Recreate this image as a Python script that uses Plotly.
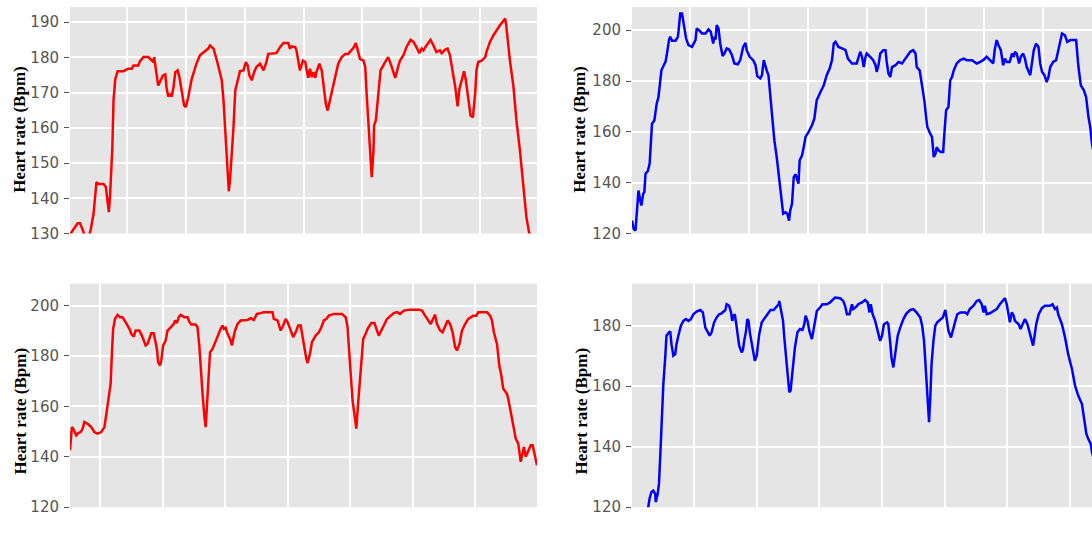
import plotly.graph_objects as go

# ---------------- data (time in grid units, heart rate in bpm) ----------------
tl_t = [
    0.02, 0.06, 0.16, 0.20, 0.25, 0.30, 0.34, 0.38, 0.43, 0.48,
    0.51, 0.60, 0.64, 0.67, 0.69, 0.71, 0.75, 0.77, 0.80, 0.84,
    0.94, 1.02, 1.08, 1.11, 1.19, 1.22, 1.28, 1.36, 1.42, 1.45,
    1.46, 1.48, 1.50, 1.53, 1.56, 1.61, 1.65, 1.67, 1.70, 1.73,
    1.76, 1.79, 1.82, 1.86, 1.89, 1.93, 1.97, 2.00, 2.04, 2.10,
    2.18, 2.24, 2.30, 2.35, 2.38, 2.41, 2.47, 2.52, 2.58, 2.61,
    2.64, 2.67, 2.69, 2.73, 2.75, 2.78, 2.81, 2.84, 2.88, 2.92,
    2.98, 3.02, 3.05, 3.08, 3.12, 3.16, 3.20, 3.26, 3.32, 3.37,
    3.40, 3.54, 3.60, 3.66, 3.74, 3.77, 3.80, 3.86, 3.88, 3.91,
    3.94, 3.99, 4.03, 4.05, 4.08, 4.11, 4.14, 4.17, 4.20, 4.22,
    4.27, 4.31, 4.34, 4.38, 4.41, 4.45, 4.51, 4.59, 4.65, 4.71,
    4.76, 4.79, 4.85, 4.89, 4.93, 4.96, 5.02, 5.05, 5.07, 5.10,
    5.13, 5.16, 5.19, 5.20, 5.23, 5.27, 5.31, 5.39, 5.44, 5.50,
    5.56, 5.60, 5.64, 5.70, 5.75, 5.82, 5.87, 5.92, 5.97, 6.01,
    6.04, 6.07, 6.12, 6.16, 6.21, 6.26, 6.32, 6.35, 6.41, 6.45,
    6.49, 6.54, 6.58, 6.62, 6.65, 6.69, 6.73, 6.76, 6.80, 6.84,
    6.88, 6.92, 6.94, 6.97, 7.03, 7.09, 7.11, 7.17, 7.23, 7.28,
    7.34, 7.43, 7.45, 7.51, 7.57, 7.62, 7.68, 7.74, 7.79, 7.84,
    7.95]
tl_hr = [
    129.0, 130.5, 132.9, 132.9, 130.9, 128.0, 128.5, 130.9, 135.6, 144.6,
    144.1, 144.1, 143.2, 139.4, 136.1, 140.3, 154.5, 167.8, 173.9, 176.1,
    176.1, 176.8, 176.8, 177.7, 177.7, 178.9, 180.1, 180.1, 179.3, 178.7,
    180.1, 178.2, 175.4, 172.0, 173.0, 174.9, 175.2, 171.6, 168.9, 169.5,
    168.9, 171.6, 175.8, 176.3, 174.4, 170.2, 166.4, 165.9, 168.7, 173.9,
    178.2, 180.6, 181.5, 182.0, 182.5, 183.4, 182.5, 179.6, 175.8, 173.5,
    167.8, 158.3, 150.7, 142.0, 145.1, 151.7, 160.2, 170.6, 173.5, 176.1,
    176.3, 178.7, 177.7, 174.9, 173.5, 175.8, 177.3, 178.2, 176.3, 178.7,
    181.0, 181.2, 182.9, 184.1, 184.1, 182.5, 183.1, 182.9, 182.0, 179.1,
    176.3, 179.1, 178.7, 176.8, 174.2, 176.8, 174.4, 175.8, 174.2, 175.8,
    178.2, 176.3, 171.6, 166.8, 164.9, 167.8, 172.0, 178.2, 180.1, 181.0,
    181.0, 181.5, 182.7, 184.1, 181.5, 179.6, 179.1, 177.3, 170.6, 162.1,
    152.6, 146.0, 153.6, 160.7, 162.1, 169.7, 176.3, 178.7, 180.1, 177.3,
    174.2, 176.8, 179.1, 180.6, 182.9, 185.0, 184.4, 182.9, 181.2, 182.5,
    182.0, 182.9, 183.9, 185.0, 183.4, 181.5, 182.0, 181.2, 182.2, 182.5,
    180.6, 175.8, 171.6, 166.1, 171.0, 173.5, 176.1, 173.5, 168.3, 163.5,
    163.0, 170.0, 176.3, 178.7, 179.1, 180.1, 181.5, 184.4, 186.3, 187.7,
    189.1, 191.0, 188.6, 179.1, 171.6, 162.1, 153.6, 143.2, 134.6, 129.9,
    122.0]

tr_t = [
    0.01, 0.04, 0.07, 0.09, 0.12, 0.15, 0.17, 0.20, 0.22, 0.24,
    0.28, 0.31, 0.33, 0.35, 0.39, 0.41, 0.43, 0.46, 0.49, 0.51,
    0.55, 0.58, 0.60, 0.64, 0.66, 0.69, 0.75, 0.79, 0.80, 0.83,
    0.86, 0.90, 0.93, 0.97, 1.03, 1.09, 1.11, 1.16, 1.20, 1.26,
    1.31, 1.35, 1.39, 1.41, 1.43, 1.45, 1.48, 1.51, 1.55, 1.58,
    1.62, 1.66, 1.71, 1.75, 1.81, 1.85, 1.90, 1.94, 1.96, 2.01,
    2.07, 2.11, 2.14, 2.19, 2.22, 2.25, 2.28, 2.30, 2.33, 2.36,
    2.39, 2.43, 2.47, 2.52, 2.56, 2.58, 2.62, 2.65, 2.68, 2.70,
    2.73, 2.76, 2.79, 2.84, 2.86, 2.90, 2.93, 2.96, 3.01, 3.07,
    3.11, 3.15, 3.21, 3.27, 3.32, 3.37, 3.41, 3.44, 3.47, 3.52,
    3.58, 3.64, 3.68, 3.72, 3.75, 3.83, 3.86, 3.89, 3.92, 3.95,
    3.98, 4.00, 4.06, 4.11, 4.15, 4.17, 4.20, 4.23, 4.28, 4.32,
    4.34, 4.37, 4.40, 4.43, 4.49, 4.54, 4.60, 4.66, 4.69, 4.74,
    4.79, 4.83, 4.85, 4.90, 4.94, 4.98, 5.01, 5.03, 5.08, 5.11,
    5.14, 5.17, 5.19, 5.22, 5.26, 5.30, 5.32, 5.35, 5.39, 5.42,
    5.45, 5.48, 5.53, 5.59, 5.65, 5.70, 5.79, 5.83, 5.87, 5.93,
    5.98, 6.04, 6.10, 6.15, 6.18, 6.21, 6.24, 6.28, 6.32, 6.35,
    6.38, 6.43, 6.47, 6.50, 6.52, 6.55, 6.59, 6.62, 6.66, 6.69,
    6.72, 6.78, 6.84, 6.88, 6.92, 6.95, 6.98, 7.02, 7.06, 7.09,
    7.12, 7.17, 7.22, 7.24, 7.29, 7.32, 7.37, 7.41, 7.46, 7.52,
    7.56, 7.60, 7.64, 7.69, 7.73, 7.77, 7.80, 7.83, 7.90, 7.97]
tr_hr = [
    125.1, 121.8, 121.2, 127.8, 136.9, 133.0, 131.0, 135.6, 136.3, 143.5,
    144.6, 147.5, 156.7, 163.2, 164.5, 168.5, 171.1, 173.7, 179.6, 184.2,
    186.2, 187.5, 190.1, 196.3, 197.4, 195.8, 195.8, 197.4, 199.3, 206.6,
    206.6, 201.3, 196.7, 194.1, 193.4, 196.1, 200.7, 199.7, 198.7, 198.7,
    200.3, 199.3, 194.7, 197.4, 196.3, 202.0, 200.7, 194.7, 189.8, 190.8,
    192.8, 192.4, 190.1, 186.9, 186.6, 188.2, 193.4, 195.0, 192.1, 189.5,
    188.2, 186.2, 181.9, 181.0, 182.3, 188.2, 185.5, 184.2, 182.3, 173.7,
    164.5, 156.7, 150.1, 140.9, 133.0, 127.8, 128.4, 127.8, 125.1, 129.1,
    131.7, 142.2, 143.3, 139.6, 148.8, 150.7, 154.0, 158.0, 159.9, 162.6,
    165.2, 172.4, 175.5, 178.3, 182.3, 184.9, 188.2, 194.7, 195.4, 193.4,
    192.8, 192.1, 188.8, 187.5, 186.9, 186.9, 189.5, 191.5, 189.5, 185.5,
    189.5, 190.8, 189.5, 188.2, 186.2, 183.6, 186.2, 190.8, 192.1, 192.1,
    187.5, 182.9, 181.6, 185.5, 186.2, 187.5, 186.9, 188.8, 190.1, 191.5,
    192.1, 190.8, 185.5, 184.2, 178.3, 172.4, 165.8, 161.9, 159.3, 158.0,
    150.1, 151.4, 154.0, 152.7, 152.1, 152.1, 159.3, 168.5, 169.8, 180.3,
    181.6, 184.2, 186.9, 188.2, 188.8, 188.2, 188.2, 187.5, 186.9, 187.5,
    188.2, 189.5, 188.2, 186.9, 192.8, 196.1, 194.1, 192.1, 186.2, 188.8,
    187.5, 187.5, 190.8, 189.5, 191.5, 190.8, 186.9, 189.5, 190.8, 188.8,
    185.5, 182.3, 192.1, 194.7, 193.4, 186.9, 183.6, 182.3, 179.6, 181.6,
    185.5, 187.5, 188.2, 190.1, 196.1, 198.7, 198.0, 195.4, 196.1, 196.1,
    196.1, 185.5, 178.3, 176.4, 173.7, 165.8, 161.9, 155.3, 146.0, 138.0]

bl_t = [
    0.52, 0.55, 0.58, 0.62, 0.65, 0.69, 0.72, 0.75, 0.81, 0.86,
    0.91, 0.96, 1.02, 1.07, 1.11, 1.13, 1.17, 1.19, 1.21, 1.24,
    1.28, 1.32, 1.36, 1.40, 1.43, 1.47, 1.50, 1.54, 1.57, 1.63,
    1.67, 1.71, 1.73, 1.76, 1.79, 1.82, 1.86, 1.88, 1.91, 1.93,
    1.96, 1.98, 2.01, 2.05, 2.08, 2.13, 2.18, 2.20, 2.23, 2.26,
    2.29, 2.35, 2.40, 2.43, 2.46, 2.53, 2.56, 2.59, 2.61, 2.64,
    2.67, 2.69, 2.70, 2.73, 2.76, 2.80, 2.84, 2.88, 2.93, 2.96,
    2.98, 3.01, 3.04, 3.08, 3.11, 3.13, 3.16, 3.20, 3.25, 3.36,
    3.41, 3.46, 3.51, 3.57, 3.62, 3.76, 3.78, 3.84, 3.86, 3.89,
    3.93, 3.97, 4.00, 4.04, 4.09, 4.13, 4.17, 4.21, 4.23, 4.26,
    4.30, 4.32, 4.36, 4.39, 4.45, 4.50, 4.54, 4.58, 4.62, 4.66,
    4.74, 4.87, 4.93, 4.96, 4.98, 5.01, 5.04, 5.07, 5.10, 5.12,
    5.17, 5.21, 5.25, 5.28, 5.34, 5.39, 5.44, 5.46, 5.50, 5.55,
    5.59, 5.65, 5.70, 5.75, 5.80, 5.86, 5.96, 6.10, 6.15, 6.20,
    6.26, 6.29, 6.34, 6.36, 6.39, 6.44, 6.48, 6.52, 6.56, 6.60,
    6.64, 6.68, 6.71, 6.75, 6.79, 6.84, 6.89, 6.97, 7.02, 7.05,
    7.11, 7.19, 7.24, 7.27, 7.30, 7.35, 7.39, 7.41, 7.45, 7.51,
    7.53, 7.57, 7.61, 7.65, 7.69, 7.73, 7.76, 7.78, 7.81, 7.85,
    7.89, 7.92, 7.94, 7.97, 7.99]
bl_hr = [
    142.6, 151.8, 150.8, 148.5, 149.4, 149.8, 151.0, 153.8, 152.9, 151.8,
    149.8, 149.2, 149.8, 151.8, 158.4, 161.7, 169.0, 180.9, 190.8, 194.7,
    196.3, 195.4, 195.4, 193.8, 192.5, 190.8, 188.8, 187.7, 190.1, 190.1,
    188.1, 185.5, 184.2, 184.8, 186.8, 189.0, 189.0, 186.8, 182.8, 177.6,
    176.2, 178.2, 184.2, 186.1, 190.1, 191.4, 192.7, 194.1, 193.1, 195.4,
    196.3, 195.4, 195.4, 193.5, 192.5, 192.5, 191.4, 183.5, 174.3, 165.0,
    155.8, 151.8, 155.8, 170.3, 181.5, 182.8, 185.5, 188.1, 190.8, 192.1,
    190.8, 191.2, 188.8, 186.8, 184.2, 186.8, 190.1, 192.7, 194.1, 194.3,
    195.0, 194.3, 196.7, 197.0, 197.4, 197.4, 194.7, 194.1, 192.1, 190.1,
    192.1, 194.7, 193.5, 190.8, 187.5, 189.4, 192.1, 192.1, 188.8, 184.8,
    178.9, 177.2, 181.0, 185.5, 188.1, 189.4, 191.4, 194.1, 194.7, 196.0,
    196.7, 196.7, 195.4, 191.4, 182.8, 172.9, 162.4, 155.8, 151.2, 158.4,
    175.6, 186.8, 188.8, 190.8, 193.1, 193.1, 189.4, 188.1, 190.1, 192.5,
    194.7, 196.0, 197.0, 197.4, 196.7, 198.0, 198.4, 198.4, 198.0, 196.0,
    194.1, 192.7, 195.4, 196.4, 192.7, 190.1, 189.4, 192.1, 194.1, 192.7,
    189.4, 183.5, 182.2, 184.8, 190.1, 192.7, 194.7, 196.0, 196.0, 197.4,
    197.4, 197.4, 196.0, 194.1, 189.4, 184.8, 175.6, 173.6, 167.0, 165.0,
    163.0, 158.4, 152.5, 147.2, 145.2, 138.0, 141.9, 143.9, 140.0, 142.6,
    144.6, 144.6, 141.9, 138.0, 136.6]

br_t = [
    0.25, 0.27, 0.29, 0.32, 0.35, 0.38, 0.39, 0.42, 0.44, 0.46,
    0.48, 0.51, 0.54, 0.56, 0.60, 0.62, 0.64, 0.67, 0.70, 0.72,
    0.75, 0.79, 0.83, 0.87, 0.91, 0.95, 0.99, 1.04, 1.10, 1.14,
    1.18, 1.20, 1.25, 1.28, 1.32, 1.36, 1.40, 1.44, 1.47, 1.50,
    1.52, 1.56, 1.59, 1.61, 1.63, 1.65, 1.67, 1.69, 1.72, 1.76,
    1.78, 1.80, 1.83, 1.85, 1.87, 1.89, 1.92, 1.95, 1.97, 2.00,
    2.04, 2.08, 2.13, 2.19, 2.22, 2.27, 2.31, 2.35, 2.36, 2.38,
    2.42, 2.44, 2.47, 2.50, 2.52, 2.54, 2.57, 2.61, 2.65, 2.69,
    2.73, 2.76, 2.78, 2.81, 2.84, 2.88, 2.90, 2.93, 2.96, 3.01,
    3.05, 3.12, 3.17, 3.25, 3.33, 3.38, 3.41, 3.44, 3.48, 3.52,
    3.54, 3.59, 3.62, 3.68, 3.73, 3.77, 3.80, 3.82, 3.85, 3.89,
    3.93, 3.97, 4.00, 4.03, 4.08, 4.10, 4.13, 4.15, 4.18, 4.21,
    4.25, 4.29, 4.34, 4.39, 4.45, 4.50, 4.55, 4.61, 4.64, 4.67,
    4.70, 4.72, 4.75, 4.77, 4.79, 4.82, 4.85, 4.88, 4.93, 4.97,
    5.01, 5.03, 5.06, 5.10, 5.13, 5.17, 5.20, 5.25, 5.33, 5.36,
    5.40, 5.46, 5.51, 5.55, 5.59, 5.62, 5.64, 5.67, 5.72, 5.78,
    5.83, 5.88, 5.93, 5.96, 5.99, 6.02, 6.04, 6.07, 6.10, 6.12,
    6.18, 6.21, 6.25, 6.28, 6.32, 6.36, 6.41, 6.43, 6.46, 6.50,
    6.55, 6.60, 6.68, 6.72, 6.76, 6.79, 6.81, 6.87, 6.92, 6.97,
    7.03, 7.08, 7.13, 7.19, 7.22, 7.26, 7.29, 7.33, 7.35, 7.40,
    7.50]
br_hr = [
    117.5, 120.0, 122.8, 125.0, 125.5, 124.4, 121.7, 124.4, 127.7, 136.5,
    146.4, 160.7, 169.5, 176.7, 177.8, 178.1, 173.9, 170.1, 170.6, 173.9,
    176.7, 180.0, 181.6, 182.2, 181.6, 182.2, 183.8, 184.7, 185.2, 184.4,
    179.4, 178.6, 176.7, 177.8, 181.1, 182.7, 183.8, 184.1, 184.7, 185.2,
    187.1, 186.6, 184.4, 181.6, 183.3, 183.8, 181.1, 177.2, 173.4, 171.2,
    172.0, 175.0, 178.3, 182.2, 181.6, 177.8, 174.5, 170.6, 168.4, 170.1,
    177.2, 181.1, 182.7, 184.4, 185.2, 185.2, 186.3, 187.1, 188.2, 185.5,
    181.6, 176.1, 169.0, 161.8, 158.0, 158.5, 165.1, 172.8, 177.8, 178.9,
    178.6, 180.5, 183.3, 181.6, 178.3, 175.6, 177.8, 181.6, 184.9, 186.0,
    187.1, 187.1, 187.7, 189.3, 189.1, 188.2, 186.6, 183.8, 183.8, 187.1,
    185.5, 186.3, 187.1, 187.7, 188.5, 187.7, 184.4, 187.1, 183.8, 181.6,
    178.3, 175.0, 176.7, 180.5, 181.1, 180.5, 174.5, 169.5, 166.2, 170.6,
    176.7, 179.4, 182.2, 184.1, 185.2, 185.5, 184.4, 182.7, 180.0, 175.0,
    165.1, 156.3, 148.1, 156.3, 167.3, 175.0, 180.0, 181.1, 181.9, 182.7,
    185.2, 182.4, 178.3, 176.1, 178.9, 181.6, 183.8, 184.4, 184.4, 183.8,
    185.5, 186.6, 188.2, 188.5, 187.1, 184.4, 186.6, 183.8, 184.1, 184.9,
    185.5, 187.1, 188.2, 189.1, 187.1, 183.8, 181.1, 184.4, 183.3, 181.6,
    180.5, 178.9, 180.5, 182.2, 180.5, 177.2, 173.4, 176.1, 180.5, 183.8,
    185.8, 186.6, 186.6, 187.1, 185.5, 186.0, 183.8, 180.5, 176.1, 170.6,
    165.7, 160.2, 156.9, 154.1, 149.7, 144.2, 142.6, 140.9, 138.2, 134.0,
    128.0]

y_title = "Heart rate (Bpm)"
red = "#FF0000"
blue = "#0000FF"

# ---------------- figure ----------------
W, H = 1092, 551
SY = 1.019  # vertical compensation

def fx(p):
    return p / W

def fy(p):
    return 1 - p * SY / H

fig = go.Figure()
fig.add_trace(go.Scatter(x=tl_t, y=tl_hr, mode="lines", line=dict(color=red, width=2.5),
                         xaxis="x", yaxis="y", hoverinfo="skip"))
fig.add_trace(go.Scatter(x=tr_t, y=tr_hr, mode="lines", line=dict(color=blue, width=2.5),
                         xaxis="x2", yaxis="y2", hoverinfo="skip"))
fig.add_trace(go.Scatter(x=bl_t, y=bl_hr, mode="lines", line=dict(color=red, width=2.5),
                         xaxis="x3", yaxis="y3", hoverinfo="skip"))
fig.add_trace(go.Scatter(x=br_t, y=br_hr, mode="lines", line=dict(color=blue, width=2.5),
                         xaxis="x4", yaxis="y4", hoverinfo="skip"))

tick_font = dict(family="DejaVu Sans", size=15, color="#555555")

def xax(domain, rng, anchor):
    return dict(domain=domain, range=rng, anchor=anchor, tick0=0, dtick=1,
                showticklabels=False, ticks="", showgrid=True, gridcolor="white",
                gridwidth=1.5, zeroline=False, showline=False)

def yax(domain, rng, dtick, anchor):
    return dict(domain=domain, range=rng, anchor=anchor, tick0=0, dtick=dtick,
                ticks="outside", ticklen=5, tickwidth=1, tickcolor="#555555",
                tickfont=tick_font, showgrid=True, gridcolor="white", gridwidth=1.5,
                zeroline=False, showline=False, ticklabelstandoff=2)

left_dom = [fx(70), fx(537)]
right_dom = [fx(632), 1.0]
top_dom = [fy(233), fy(7)]
bot_dom = [fy(506), fy(283)]

fig.update_layout(
    width=W, height=H, autosize=False,
    margin=dict(l=0, r=0, t=0, b=0, pad=0),
    paper_bgcolor="white", plot_bgcolor="#E5E5E5",
    showlegend=False,
    xaxis=xax(left_dom, [0.03, 7.97], "y"),
    yaxis=yax(top_dom, [130, 194.3], 10, "x"),
    xaxis2=xax(right_dom, [0.01, 7.83], "y2"),
    yaxis2=yax(top_dom, [120, 209.1], 20, "x2"),
    xaxis3=xax(left_dom, [0.52, 7.99], "y3"),
    yaxis3=yax(bot_dom, [120, 208.7], 20, "x3"),
    xaxis4=xax(right_dom, [0.01, 7.35], "y4"),
    yaxis4=yax(bot_dom, [120, 193.9], 20, "x4"),
)

title_font = dict(family="Liberation Serif", size=17, color="black")
for (xp, yp) in [(20, 129.5), (580, 129.5), (20, 410.5), (581, 410.5)]:
    fig.add_annotation(text="<b>" + y_title + "</b>", x=fx(xp), y=fy(yp),
                       xref="paper", yref="paper", showarrow=False,
                       textangle=-90, xanchor="center", yanchor="middle",
                       font=title_font)

fig.write_html("out.html", config={"displayModeBar": False})
